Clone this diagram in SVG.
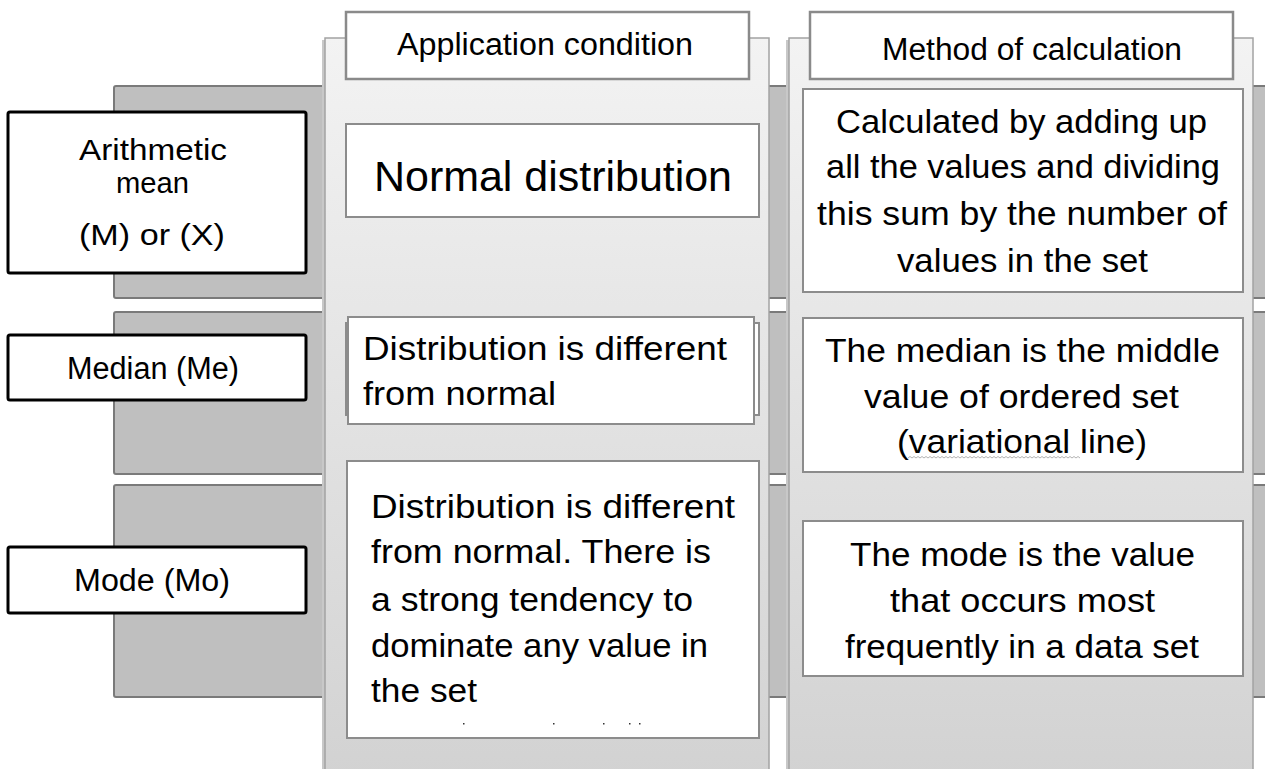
<svg xmlns="http://www.w3.org/2000/svg" width="1265" height="769" viewBox="0 0 1265 769">
  <defs>
    <linearGradient id="colFill" x1="0" y1="0" x2="0" y2="1">
      <stop offset="0" stop-color="#f3f3f3"/>
      <stop offset="1" stop-color="#d2d2d2"/>
    </linearGradient>
    <style>
      .band { fill: #bfbfbf; stroke: #7a7a7a; stroke-width: 2; }
      .col { fill: url(#colFill); stroke: #a3a3a3; stroke-width: 1.5; }
      .label { fill: #ffffff; stroke: #000000; stroke-width: 3; }
      .head { fill: #ffffff; stroke: #8a8a8a; stroke-width: 2.5; }
      .cell { fill: #ffffff; stroke: #8c8c8c; stroke-width: 2; }
      text { font-family: "Liberation Sans", Arial, sans-serif; fill: #000000; }
      .t30 { font-size: 30px; }
      .t31 { font-size: 31px; }
      .t33 { font-size: 33px; }
      .t43 { font-size: 43px; }
    </style>
  </defs>

  <rect width="1265" height="769" fill="#ffffff"/>

  <!-- row bands -->
  <g id="bands">
    <rect class="band" x="114" y="86" width="1160" height="212" rx="2"/>
    <rect class="band" x="114" y="312" width="1160" height="162" rx="2"/>
    <rect class="band" x="114" y="485" width="1160" height="212" rx="2"/>
  </g>

  <!-- column backgrounds -->
  <g id="columns">
    <rect x="322" y="40" width="4" height="740" fill="#c8c8c8"/>
    <rect class="col" x="325" y="38" width="444" height="740"/>
    <rect x="786" y="40" width="4" height="740" fill="#c8c8c8"/>
    <rect class="col" x="789" y="38" width="464" height="740"/>
  </g>

  <!-- row labels -->
  <g id="label-mean">
    <rect class="label" x="8" y="112" width="298" height="161" rx="2"/>
    <text class="t30" x="79" y="160" textLength="148" lengthAdjust="spacingAndGlyphs">Arithmetic</text>
    <text class="t30" x="116" y="193" textLength="73" lengthAdjust="spacingAndGlyphs">mean</text>
    <text class="t30" x="79" y="245" textLength="146" lengthAdjust="spacingAndGlyphs">(M) or (X)</text>
  </g>
  <g id="label-median">
    <rect class="label" x="8" y="335" width="298" height="65" rx="2"/>
    <text class="t31" x="67" y="379" textLength="172" lengthAdjust="spacingAndGlyphs">Median (Me)</text>
  </g>
  <g id="label-mode">
    <rect class="label" x="8" y="547" width="298" height="66" rx="2"/>
    <text class="t31" x="74" y="591" textLength="156" lengthAdjust="spacingAndGlyphs">Mode (Mo)</text>
  </g>

  <!-- column headers -->
  <g id="head-condition">
    <rect class="head" x="346" y="12" width="403" height="67"/>
    <text class="t31" x="397" y="55" textLength="296" lengthAdjust="spacingAndGlyphs">Application condition</text>
  </g>
  <g id="head-method">
    <rect class="head" x="810" y="12" width="423" height="67"/>
    <text class="t31" x="882" y="60" textLength="300" lengthAdjust="spacingAndGlyphs">Method of calculation</text>
  </g>

  <!-- application conditions -->
  <g id="cond-mean">
    <rect class="cell" x="346" y="124" width="413" height="93"/>
    <text class="t43" x="374" y="191" textLength="358" lengthAdjust="spacingAndGlyphs">Normal distribution</text>
  </g>
  <g id="cond-median">
    <rect class="cell" x="346" y="323" width="413" height="92"/>
    <rect class="cell" x="348" y="317" width="406" height="107"/>
    <text class="t33" x="363" y="360" textLength="364" lengthAdjust="spacingAndGlyphs">Distribution is different</text>
    <text class="t33" x="363" y="405" textLength="193" lengthAdjust="spacingAndGlyphs">from normal</text>
  </g>
  <g id="cond-mode">
    <rect class="cell" x="347" y="461" width="412" height="277"/>
    <text class="t33" x="371" y="518" textLength="364" lengthAdjust="spacingAndGlyphs">Distribution is different</text>
    <text class="t33" x="371" y="563" textLength="340" lengthAdjust="spacingAndGlyphs">from normal. There is</text>
    <text class="t33" x="371" y="611" textLength="322" lengthAdjust="spacingAndGlyphs">a strong tendency to</text>
    <text class="t33" x="371" y="657" textLength="337" lengthAdjust="spacingAndGlyphs">dominate any value in</text>
    <text class="t33" x="371" y="702" textLength="106" lengthAdjust="spacingAndGlyphs">the set</text>
    <g fill="#333333">
      <rect x="463" y="723" width="1.5" height="1.5"/>
      <rect x="553" y="723" width="1.5" height="1.5"/>
      <rect x="603" y="723" width="1.5" height="1.5"/>
      <rect x="629" y="723" width="1.5" height="1.5"/>
      <rect x="639" y="723" width="1.5" height="1.5"/>
    </g>
  </g>

  <!-- methods of calculation -->
  <g id="method-mean">
    <rect class="cell" x="803" y="89" width="440" height="203"/>
    <text class="t33" x="836" y="133" textLength="371" lengthAdjust="spacingAndGlyphs">Calculated by adding up</text>
    <text class="t33" x="826" y="178" textLength="394" lengthAdjust="spacingAndGlyphs">all the values and dividing</text>
    <text class="t33" x="817" y="225" textLength="410" lengthAdjust="spacingAndGlyphs">this sum by the number of</text>
    <text class="t33" x="897" y="272" textLength="251" lengthAdjust="spacingAndGlyphs">values in the set</text>
  </g>
  <g id="method-median">
    <rect class="cell" x="803" y="318" width="440" height="154"/>
    <text class="t33" x="825" y="362" textLength="395" lengthAdjust="spacingAndGlyphs">The median is the middle</text>
    <text class="t33" x="864" y="408" textLength="315" lengthAdjust="spacingAndGlyphs">value of ordered set</text>
    <text class="t33" x="897" y="453" textLength="250" lengthAdjust="spacingAndGlyphs">(variational line)</text>
    <path d="M908 458 l2 -1.5 l2 1.5 l2 -1.5 l2 1.5 l2 -1.5 l2 1.5 l2 -1.5 l2 1.5 l2 -1.5 l2 1.5 l2 -1.5 l2 1.5 l2 -1.5 l2 1.5 l2 -1.5 l2 1.5 l2 -1.5 l2 1.5 l2 -1.5 l2 1.5 l2 -1.5 l2 1.5 l2 -1.5 l2 1.5 l2 -1.5 l2 1.5 l2 -1.5 l2 1.5 l2 -1.5 l2 1.5 l2 -1.5 l2 1.5 l2 -1.5 l2 1.5 l2 -1.5 l2 1.5 l2 -1.5 l2 1.5 l2 -1.5 l2 1.5 l2 -1.5 l2 1.5 l2 -1.5 l2 1.5 l2 -1.5 l2 1.5 l2 -1.5 l2 1.5 l2 -1.5 l2 1.5 l2 -1.5 l2 1.5 l2 -1.5 l2 1.5 l2 -1.5 l2 1.5 l2 -1.5 l2 1.5 l2 -1.5 l2 1.5 l2 -1.5 l2 1.5 l2 -1.5 l2 1.5 l2 -1.5 l2 1.5 l2 -1.5 l2 1.5 l2 -1.5 l2 1.5 l2 -1.5 l2 1.5 l2 -1.5 l2 1.5 l2 -1.5 l2 1.5 l2 -1.5 l2 1.5 l2 -1.5 l2 1.5 l2 -1.5 l2 1.5 l2 -1.5 l2 1.5 l2 -1.5 l2 1.5" fill="none" stroke="#a0a0a0" stroke-width="0.8"/>
  </g>
  <g id="method-mode">
    <rect class="cell" x="803" y="521" width="440" height="155"/>
    <text class="t33" x="850" y="566" textLength="345" lengthAdjust="spacingAndGlyphs">The mode is the value</text>
    <text class="t33" x="890" y="612" textLength="265" lengthAdjust="spacingAndGlyphs">that occurs most</text>
    <text class="t33" x="845" y="658" textLength="354" lengthAdjust="spacingAndGlyphs">frequently in a data set</text>
  </g>
</svg>
